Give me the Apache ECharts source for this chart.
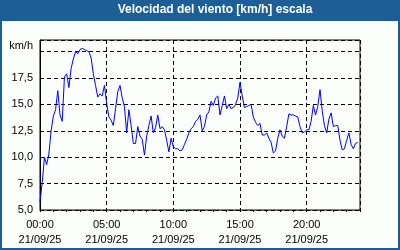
<!DOCTYPE html>
<html>
<head>
<meta charset="utf-8">
<script src="https://cdn.jsdelivr.net/npm/echarts@6/dist/echarts.min.js"></script>
<style>
html,body{margin:0;padding:0;background:#1e5e96;}
#c{width:400px;height:250px;}
</style>
</head>
<body>
<div id="c"></div>
<script>
const titleText = 'Velocidad del viento [km/h] escala';
const unitLabel = 'km/h';
const dateLabel = '21/09/25';
const xTickLabels = ['00:00', '05:00', '10:00', '15:00', '20:00'];
const yTickValues = [5, 7.5, 10, 12.5, 15, 17.5];
const stepMinutes = 10;
const windSpeed = [
  5.8, 7.6, 10.0, 9.3, 10.3, 12.5, 13.9, 14.5, 16.3, 14.0, 13.4, 17.6, 17.9, 16.6, 18.4, 19.3, 20.0, 19.8, 20.2, 20.3, 20.2, 20.1, 20.0, 19.4, 17.9,
  16.8, 15.7, 16.0, 15.8, 16.8, 15.1, 13.8, 13.5, 13.0, 14.6, 16.2, 16.8, 15.6, 14.8, 12.3, 14.5, 13.0, 11.3, 11.3, 12.9, 12.0, 11.7, 10.2,
  12.0, 13.0, 13.9, 12.3, 12.8, 14.0, 12.7, 12.9, 12.6, 11.6, 10.5, 11.8, 11.0, 10.8, 10.8, 10.6, 10.7, 11.2, 11.7, 12.3, 12.7, 12.9, 13.4, 13.6,
  14.0, 12.5, 12.9, 14.0, 14.3, 15.3, 14.9, 15.6, 15.8, 14.0, 14.9, 15.8, 14.6, 15.0, 14.6, 14.7, 15.0, 15.6, 17.1, 15.8, 14.7, 14.8, 14.9, 15.0,
  13.8, 13.3, 13.0, 13.2, 12.1, 12.1, 12.3, 11.8, 11.4, 10.4, 10.6, 11.8, 12.6, 12.0, 11.8, 12.9, 14.1, 14.0, 14.0, 13.9, 13.8, 12.9, 12.3, 12.4,
  12.6, 12.6, 13.4, 14.9, 14.0, 14.8, 16.4, 14.4, 13.0, 12.3, 13.6, 14.2, 12.9, 13.0, 13.0, 11.6, 10.7, 10.8, 11.6, 12.3, 11.2, 10.8, 11.3, 11.4
];

const chart = echarts.init(document.getElementById('c'), null, {renderer: 'canvas'});
const dash = {color: '#000', width: 1, type: [4, 3]};
const font = 'Liberation Sans';
chart.setOption({
  animation: false,
  backgroundColor: '#1e5e96',
  graphic: [{
    type: 'rect', z: -10, silent: true,
    shape: {x: 2, y: 21, width: 396, height: 227},
    style: {fill: '#fbfefb'}
  }],
  title: {
    text: titleText, left: 215, top: 3, textAlign: 'center', padding: 0,
    textStyle: {color: '#fff', fontFamily: font, fontWeight: 'bold', fontSize: 12, lineHeight: 14}
  },
  grid: {left: 40, right: 40, top: 40, bottom: 40, show: true, borderColor: '#000', borderWidth: 1, backgroundColor: 'transparent'},
  xAxis: [{
    type: 'value', min: 0, max: 1440, interval: 300,
    axisLine: {lineStyle: {color: '#000', width: 1, type: [4, 3]}},
    axisTick: {show: false},
    splitLine: {show: true, lineStyle: dash},
    axisLabel: {
      color: '#000', fontFamily: font, fontSize: 11, lineHeight: 15, margin: 7,
      formatter: v => (v % 300 === 0 && v < 1440) ? xTickLabels[v / 300] + '\n' + dateLabel : ''
    }
  }, {
    type: 'value', min: 0, max: 1440, interval: 60, position: 'bottom',
    axisLine: {show: false},
    axisTick: {show: true, length: 2, lineStyle: {color: '#000'}},
    splitLine: {show: false},
    axisLabel: {show: false}
  }],
  yAxis: {
    type: 'value', min: 5, max: 21.1, interval: 2.5,
    axisLine: {show: true, lineStyle: {color: '#000', width: 1}},
    axisTick: {show: false},
    splitLine: {show: true, lineStyle: dash},
    axisLabel: {
      color: '#000', fontFamily: font, fontSize: 11, lineHeight: 12, margin: 7,
      formatter: v => {
        if (Math.abs(v - 20) < 1e-6) return unitLabel + '\n';
        if (yTickValues.some(t => Math.abs(t - v) < 1e-6)) return v.toFixed(1).replace('.', ',');
        return '';
      }
    }
  },
  series: [{
    type: 'line', xAxisIndex: 0,
    data: windSpeed.map((v, i) => [i * stepMinutes, v]),
    showSymbol: false, symbol: 'none',
    lineStyle: {color: '#0000ff', width: 1},
    z: 5
  }]
});
</script>
</body>
</html>
